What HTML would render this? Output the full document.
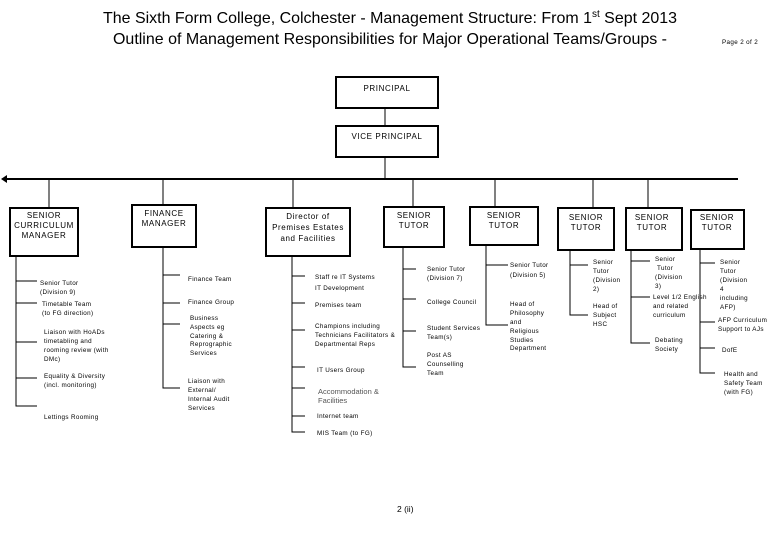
<!DOCTYPE html>
<html><head><meta charset="utf-8"><style>
html,body{margin:0;padding:0;background:#fff;}
svg{display:block;}
text{font-family:"Liberation Sans",Arial,sans-serif;fill:#000;}
.s{font-size:6.3px;letter-spacing:0.35px;}
.b{font-size:8px;letter-spacing:0.6px;}
</style></head><body>
<svg width="780" height="540" viewBox="0 0 780 540" xmlns="http://www.w3.org/2000/svg">
<text x="103" y="23" font-size="16" textLength="574" lengthAdjust="spacingAndGlyphs">The Sixth Form College, Colchester - Management Structure: From 1<tspan font-size="10" dy="-6">st</tspan><tspan dy="6"> Sept 2013</tspan></text>
<text x="113" y="44" font-size="16" textLength="554" lengthAdjust="spacingAndGlyphs">Outline of Management Responsibilities for Major Operational Teams/Groups -</text>
<text x="722" y="44" class="s">Page 2 of 2</text>

<g fill="none" stroke="#000" stroke-width="2">
<rect x="336" y="77" width="102" height="31"/>
<rect x="336" y="126" width="102" height="31"/>
<rect x="10" y="208" width="68" height="48"/>
<rect x="132" y="205" width="64" height="42"/>
<rect x="266" y="208" width="84" height="48"/>
<rect x="384" y="207" width="60" height="40"/>
<rect x="470" y="207" width="68" height="38"/>
<rect x="558" y="208" width="56" height="42"/>
<rect x="626" y="208" width="56" height="42"/>
<rect x="691" y="210" width="53" height="39"/>
</g>
<g stroke="#000" stroke-width="1" fill="none">
<line x1="385" y1="108" x2="385" y2="126"/>
<line x1="385" y1="157" x2="385" y2="179"/>
<line x1="6" y1="179" x2="738" y2="179" stroke-width="2"/>
<line x1="49" y1="179" x2="49" y2="208"/>
<line x1="163" y1="179" x2="163" y2="205"/>
<line x1="293" y1="179" x2="293" y2="208"/>
<line x1="413" y1="179" x2="413" y2="207"/>
<line x1="495" y1="179" x2="495" y2="207"/>
<line x1="593" y1="179" x2="593" y2="208"/>
<line x1="648" y1="179" x2="648" y2="208"/>
<path d="M16 256V406H37M16 281H37M16 303H37M16 342H37M16 378H37"/>
<path d="M163 247V388H180M163 275H180M163 303H180M163 324H180"/>
<path d="M292 256V432H305M292 276H305M292 303H305M292 330H305M292 367H305M292 388H305M292 416H305"/>
<path d="M403 247V367H416M403 269H416M403 299H416M403 331H416"/>
<path d="M486 245V325H508M486 265H508"/>
<path d="M570 250V315H588M570 265H588"/>
<path d="M631 250V343H650M631 261H650M631 297H650"/>
<path d="M700 249V373H715M700 263H715M700 322H715M700 348H715"/>
</g>
<polygon points="1,179 7,175 7,183" fill="#000"/>

<g class="b" text-anchor="middle">
<text x="387" y="91">PRINCIPAL</text>
<text x="387" y="139">VICE PRINCIPAL</text>
<text x="44" y="218">SENIOR</text><text x="44" y="228">CURRICULUM</text><text x="44" y="238">MANAGER</text>
<text x="164" y="216">FINANCE</text><text x="164" y="226">MANAGER</text>
<text x="308" y="219">Director of</text><text x="308" y="230">Premises Estates</text><text x="308" y="241">and Facilities</text>
<text x="414" y="218">SENIOR</text><text x="414" y="228">TUTOR</text>
<text x="504" y="218">SENIOR</text><text x="504" y="228">TUTOR</text>
<text x="586" y="220">SENIOR</text><text x="586" y="230">TUTOR</text>
<text x="652" y="220">SENIOR</text><text x="652" y="230">TUTOR</text>
<text x="717" y="220">SENIOR</text><text x="717" y="230">TUTOR</text>
</g>

<g class="s">
<text x="40" y="285">Senior Tutor</text><text x="40" y="294">(Division 9)</text>
<text x="42" y="306">Timetable Team</text><text x="42" y="315">(to FG direction)</text>
<text x="44" y="334">Liaison with HoADs</text><text x="44" y="343">timetabling and</text><text x="44" y="352">rooming review (with</text><text x="44" y="361">DMc)</text>
<text x="44" y="378">Equality &amp; Diversity</text><text x="44" y="387">(incl. monitoring)</text>
<text x="44" y="419">Lettings Rooming</text>

<text x="188" y="281">Finance Team</text>
<text x="188" y="304">Finance Group</text>
<text x="190" y="320">Business</text><text x="190" y="329">Aspects eg</text><text x="190" y="338">Catering &amp;</text><text x="190" y="346">Reprographic</text><text x="190" y="355">Services</text>
<text x="188" y="383">Liaison with</text><text x="188" y="392">External/</text><text x="188" y="401">Internal Audit</text><text x="188" y="410">Services</text>

<text x="315" y="279">Staff re IT Systems</text>
<text x="315" y="290">IT Development</text>
<text x="315" y="307">Premises team</text>
<text x="315" y="328">Champions including</text><text x="315" y="337">Technicians Facilitators &amp;</text><text x="315" y="346">Departmental Reps</text>
<text x="317" y="372">IT Users Group</text>
<text x="318" y="394" font-size="7.5" style="fill:#555;letter-spacing:0">Accommodation &amp;</text><text x="318" y="403" font-size="7.5" style="fill:#555;letter-spacing:0">Facilities</text>
<text x="317" y="418">Internet team</text>
<text x="317" y="435">MIS Team (to FG)</text>

<text x="427" y="271">Senior Tutor</text><text x="427" y="280">(Division 7)</text>
<text x="427" y="304">College Council</text>
<text x="427" y="330">Student Services</text><text x="427" y="339">Team(s)</text>
<text x="427" y="357">Post AS</text><text x="427" y="366">Counselling</text><text x="427" y="375">Team</text>

<text x="510" y="267">Senior Tutor</text><text x="510" y="277">(Division 5)</text>
<text x="510" y="306">Head of</text><text x="510" y="315">Philosophy</text><text x="510" y="324">and</text><text x="510" y="333">Religious</text><text x="510" y="342">Studies</text><text x="510" y="350">Department</text>

<text x="593" y="264">Senior</text><text x="593" y="273">Tutor</text><text x="593" y="282">(Division</text><text x="593" y="291">2)</text>
<text x="593" y="308">Head of</text><text x="593" y="317">Subject</text><text x="593" y="326">HSC</text>

<text x="655" y="261">Senior</text><text x="657" y="270">Tutor</text><text x="655" y="279">(Division</text><text x="655" y="288">3)</text>
<text x="653" y="299">Level 1/2 English</text><text x="653" y="308">and related</text><text x="653" y="317">curriculum</text>
<text x="655" y="342">Debating</text><text x="655" y="351">Society</text>

<text x="720" y="264">Senior</text><text x="720" y="273">Tutor</text><text x="720" y="282">(Division</text><text x="720" y="291">4</text><text x="720" y="300">including</text><text x="720" y="309">AFP)</text>
<text x="718" y="322">AFP Curriculum</text><text x="718" y="331">Support to AJs</text>
<text x="722" y="352">DofE</text>
<text x="724" y="376">Health and</text><text x="724" y="385">Safety Team</text><text x="724" y="394">(with FG)</text>
</g>
<text x="397" y="512" font-size="8.5">2 (ii)</text>
</svg>
</body></html>
